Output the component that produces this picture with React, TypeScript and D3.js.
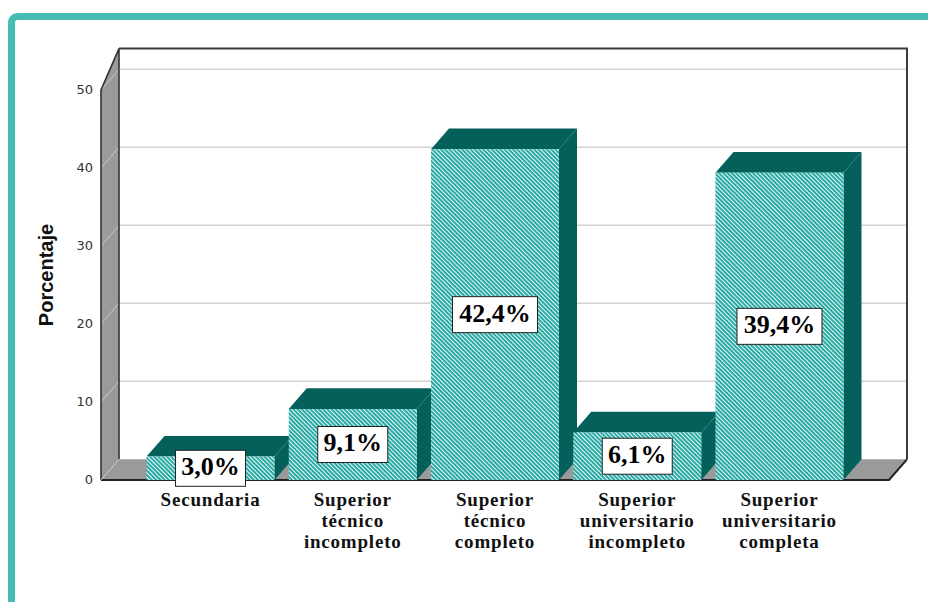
import React from 'react';
import * as d3 from 'd3';

const categories = [
  ['Secundaria'],
  ['Superior', 'técnico', 'incompleto'],
  ['Superior', 'técnico', 'completo'],
  ['Superior', 'universitario', 'incompleto'],
  ['Superior', 'universitario', 'completa'],
];
const values = [3.0, 9.1, 42.4, 6.1, 39.4];
const valueLabels = ['3,0%', '9,1%', '42,4%', '6,1%', '39,4%'];
const yTicks = [0, 10, 20, 30, 40, 50];

const W = 928;
const H = 602;
const front = { left: 101, right: 889, bottom: 480, top50: 90 };
const depth = { dx: 18, dy: 20.7 };

const App = () => {
  const y = d3.scaleLinear().domain([0, 50]).range([front.bottom, front.top50]);
  const x = d3
    .scaleBand<number>()
    .domain(d3.range(values.length))
    .range([front.left, front.right])
    .paddingInner(0.1)
    .paddingOuter(0.32);

  const backLeft = front.left + depth.dx;
  const backRight = front.right + depth.dx;
  const backBottom = front.bottom - depth.dy;
  const backTop = y(50) - depth.dy - 20.7;

  const pts = (p: number[][]) => p.map(d => d.join(',')).join(' ');

  return (
    <svg
      width={W}
      height={H}
      style={{ position: 'absolute', left: 0, top: 0, display: 'block' }}
    >
      <defs>
        <pattern
          id="hatch"
          patternUnits="userSpaceOnUse"
          width={3}
          height={3}
          patternTransform="rotate(-45)"
        >
          <rect width={3} height={3} fill="#1aa49e" />
          <line x1={0.6} y1={0} x2={0.6} y2={3} stroke="#f2fbfa" strokeWidth={1.1} />
        </pattern>
      </defs>

      <rect width={W} height={H} fill="#fff" />
      {/* outer frame */}
      <rect
        x={11.5}
        y={16.5}
        width={W + 20}
        height={H + 20}
        rx={6}
        fill="none"
        stroke="#45bdb2"
        strokeWidth={7}
      />

      {/* back wall */}
      <rect
        x={backLeft}
        y={backTop}
        width={backRight - backLeft}
        height={backBottom - backTop}
        fill="#fff"
      />
      {yTicks.filter(t => t > 0).map(t => (
        <line
          key={t}
          x1={backLeft}
          x2={backRight}
          y1={y(t) - depth.dy}
          y2={y(t) - depth.dy}
          stroke="#d2d2d2"
          strokeWidth={1.5}
        />
      ))}
      <polyline
        points={pts([[backLeft, backTop], [backRight, backTop], [backRight, backBottom]])}
        fill="none"
        stroke="#3a3a3a"
        strokeWidth={2}
      />

      {/* left wall */}
      <polygon
        points={pts([
          [front.left, y(50)],
          [backLeft, backTop],
          [backLeft, backBottom],
          [front.left, front.bottom],
        ])}
        fill="#9a9a9a"
      />
      {yTicks.filter(t => t > 0).map(t => (
        <line
          key={t}
          x1={front.left}
          x2={backLeft}
          y1={y(t)}
          y2={y(t) - depth.dy}
          stroke="#c8c8c8"
          strokeWidth={1}
        />
      ))}
      <polyline
        points={pts([
          [front.left, front.bottom],
          [front.left, y(50)],
          [backLeft, backTop],
          [backLeft, backBottom],
        ])}
        fill="none"
        stroke="#333"
        strokeWidth={1.6}
      />

      {/* floor */}
      <polygon
        points={pts([
          [front.left, front.bottom],
          [backLeft, backBottom],
          [backRight, backBottom],
          [front.right, front.bottom],
        ])}
        fill="#9a9a9a"
      />
      <polyline
        points={pts([
          [front.left, front.bottom],
          [front.right, front.bottom],
          [backRight, backBottom],
        ])}
        fill="none"
        stroke="#222"
        strokeWidth={2}
      />
      <line
        x1={front.left}
        x2={backLeft}
        y1={front.bottom}
        y2={backBottom}
        stroke="#c8c8c8"
        strokeWidth={1}
      />

      {/* bars */}
      {values.map((v, i) => {
        const x0 = x(i)!;
        const x1 = x0 + x.bandwidth();
        const yt = y(v);
        return (
          <g key={i}>
            <polygon
              points={pts([
                [x0, yt],
                [x0 + depth.dx, yt - depth.dy],
                [x1 + depth.dx, yt - depth.dy],
                [x1, yt],
              ])}
              fill="#03605b"
            />
            <polygon
              points={pts([
                [x1, yt],
                [x1 + depth.dx, yt - depth.dy],
                [x1 + depth.dx, backBottom],
                [x1, front.bottom],
              ])}
              fill="#03605b"
            />
            <rect x={x0} y={yt} width={x1 - x0} height={front.bottom - yt} fill="url(#hatch)" />
          </g>
        );
      })}

      {/* value labels */}
      {values.map((v, i) => {
        const cx = x(i)! + x.bandwidth() / 2;
        const cy = (y(v) + front.bottom) / 2;
        const bw = valueLabels[i].length === 5 ? 85 : 70;
        return (
          <g key={i}>
            <rect
              x={cx - bw / 2}
              y={cy - 18}
              width={bw}
              height={36}
              fill="#fff"
              stroke="#222"
              strokeWidth={1}
            />
            <text
              x={cx}
              y={cy + 1}
              textAnchor="middle"
              dominantBaseline="middle"
              fontFamily="'Liberation Serif', 'DejaVu Serif', serif"
              fontWeight="bold"
              fontSize={26}
              fill="#000"
            >
              {valueLabels[i]}
            </text>
          </g>
        );
      })}

      {/* category labels */}
      {categories.map((lines, i) => (
        <text
          key={i}
          x={x(i)! + x.bandwidth() / 2}
          y={506}
          textAnchor="middle"
          fontFamily="'Liberation Serif', 'DejaVu Serif', serif"
          fontWeight="bold"
          fontSize={19}
          letterSpacing={0.8}
          fill="#111"
        >
          {lines.map((l, j) => (
            <tspan key={j} x={x(i)! + x.bandwidth() / 2} dy={j === 0 ? 0 : 21}>
              {l}
            </tspan>
          ))}
        </text>
      ))}

      {/* y ticks */}
      {yTicks.map(t => (
        <text
          key={t}
          x={93}
          y={y(t)}
          textAnchor="end"
          dominantBaseline="middle"
          fontFamily="'DejaVu Sans', 'Liberation Sans', sans-serif"
          fontSize={13}
          fill="#333"
        >
          {t}
        </text>
      ))}

      {/* y axis title */}
      <text
        transform="translate(53,275) rotate(-90)"
        textAnchor="middle"
        fontFamily="'Liberation Sans', Arial, sans-serif"
        fontWeight="bold"
        fontSize={20}
        fill="#111"
      >
        Porcentaje
      </text>
    </svg>
  );
};

export default App;
